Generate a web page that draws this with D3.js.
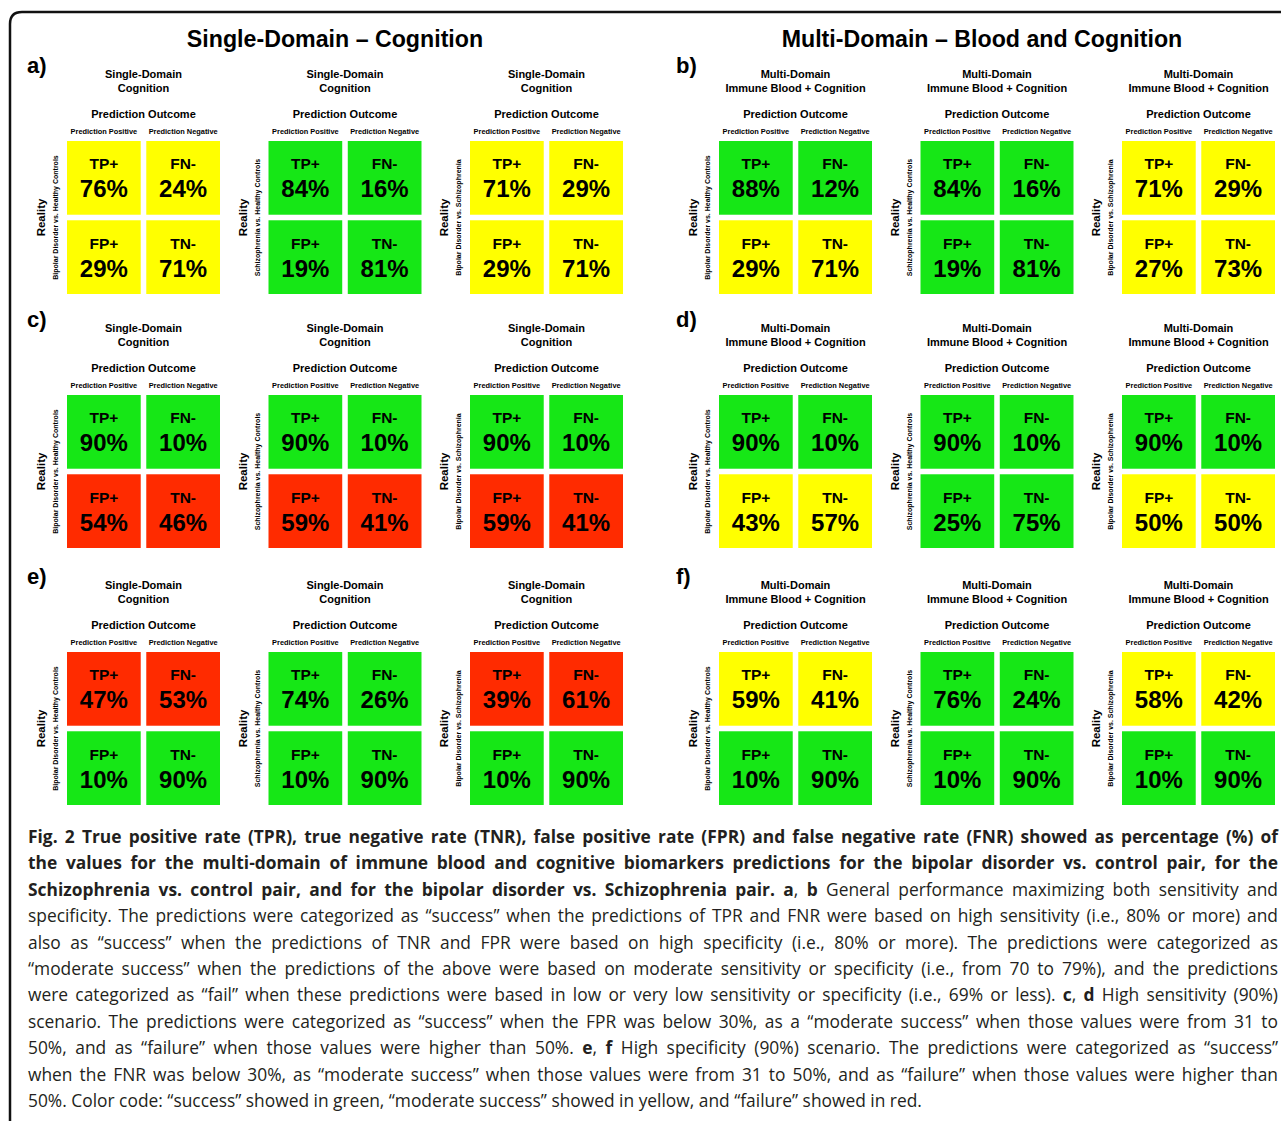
<!DOCTYPE html>
<html>
<head>
<meta charset="utf-8">
<script src="https://cdn.jsdelivr.net/npm/d3@7"></script>
<style>
  body { margin: 0; background: #fff; }
  svg { display: block; }
</style>
</head>
<body>
<div id="chart"></div>
<script>
// section titles and panel labels
const sectionTitles = ["Single-Domain – Cognition", "Multi-Domain – Blood and Cognition"];
const panelLabels = ["a)", "b)", "c)", "d)", "e)", "f)"];
const domainTitles = [["Single-Domain", "Cognition"], ["Multi-Domain", "Immune Blood + Cognition"]];
const comparisons = ["Bipolar Disorder vs. Healthy Controls", "Schizophrenia vs. Healthy Controls", "Bipolar Disorder vs. Schizophrenia"];
const outcomeLabels = ["Prediction Positive", "Prediction Negative"];
const realityRows = ["Positive", "Negative"];
const cellLabels = ["TP+", "FN-", "FP+", "TN-"];

// values per panel, one array per comparison: [TP, FN, FP, TN]
const valuesA = [[76, 24, 29, 71], [84, 16, 19, 81], [71, 29, 29, 71]];
const valuesB = [[88, 12, 29, 71], [84, 16, 19, 81], [71, 29, 27, 73]];
const valuesC = [[90, 10, 54, 46], [90, 10, 59, 41], [90, 10, 59, 41]];
const valuesD = [[90, 10, 43, 57], [90, 10, 25, 75], [90, 10, 50, 50]];
const valuesE = [[47, 53, 10, 90], [74, 26, 10, 90], [39, 61, 10, 90]];
const valuesF = [[59, 41, 10, 90], [76, 24, 10, 90], [58, 42, 10, 90]];

// outcome per panel, one array per comparison: [top row, bottom row]
const statusA = [["moderate", "moderate"], ["success", "success"], ["moderate", "moderate"]];
const statusB = [["success", "moderate"], ["success", "success"], ["moderate", "moderate"]];
const statusC = [["success", "failure"], ["success", "failure"], ["success", "failure"]];
const statusD = [["success", "moderate"], ["success", "success"], ["success", "moderate"]];
const statusE = [["failure", "success"], ["success", "success"], ["failure", "success"]];
const statusF = [["moderate", "success"], ["success", "success"], ["moderate", "success"]];

// caption, **...** marks bold
const captionLines = [
  "**Fig. 2 True positive rate (TPR), true negative rate (TNR), false positive rate (FPR) and false negative rate (FNR) showed as percentage (%) of**",
  "**the values for the multi-domain of immune blood and cognitive biomarkers predictions for the bipolar disorder vs. control pair, for the**",
  "**Schizophrenia vs. control pair, and for the bipolar disorder vs. Schizophrenia pair. a**, **b** General performance maximizing both sensitivity and",
  "specificity. The predictions were categorized as “success” when the predictions of TPR and FNR were based on high sensitivity (i.e., 80% or more) and",
  "also as “success” when the predictions of TNR and FPR were based on high specificity (i.e., 80% or more). The predictions were categorized as",
  "“moderate success” when the predictions of the above were based on moderate sensitivity or specificity (i.e., from 70 to 79%), and the predictions",
  "were categorized as “fail” when these predictions were based in low or very low sensitivity or specificity (i.e., 69% or less). **c**, **d** High sensitivity (90%)",
  "scenario. The predictions were categorized as “success” when the FPR was below 30%, as a “moderate success” when those values were from 31 to",
  "50%, and as “failure” when those values were higher than 50%. **e**, **f** High specificity (90%) scenario. The predictions were categorized as “success”",
  "when the FNR was below 30%, as “moderate success” when those values were from 31 to 50%, and as “failure” when those values were higher than",
  "50%. Color code: “success” showed in green, “moderate success” showed in yellow, and “failure” showed in red."
];

const panels = [
  { label: panelLabels[0], values: valuesA, status: statusA, col: 0, row: 0 },
  { label: panelLabels[1], values: valuesB, status: statusB, col: 1, row: 0 },
  { label: panelLabels[2], values: valuesC, status: statusC, col: 0, row: 1 },
  { label: panelLabels[3], values: valuesD, status: statusD, col: 1, row: 1 },
  { label: panelLabels[4], values: valuesE, status: statusE, col: 0, row: 2 },
  { label: panelLabels[5], values: valuesF, status: statusF, col: 1, row: 2 }
];

const width = 1281, height = 1121;
const fontSans = "'Liberation Sans', Arial, Helvetica, sans-serif";
const colX = [67, 719];          // left edge of first matrix in each column
const rowY = [141, 395, 652];    // top edge of the matrices in each row
const matrixStep = 201.5;
const matrixSize = 153;

const color = d3.scaleOrdinal()
  .domain(["success", "moderate", "failure"])
  .range(["#16e716", "#ffff00", "#ff2b00"]);

const x = d3.scaleBand().domain(outcomeLabels).range([0, matrixSize]).paddingInner(0.07);
const y = d3.scaleBand().domain(realityRows).range([0, matrixSize]).paddingInner(0.07);

const svg = d3.select("#chart")
  .append("svg")
    .attr("width", width)
    .attr("height", height)
    .attr("viewBox", `0 0 ${width} ${height}`)
    .style("font-family", fontSans);

svg.append("rect").attr("width", width).attr("height", height).attr("fill", "#fff");

// frame (rounded corner on the top left, open to the right and bottom)
svg.append("path")
  .attr("d", `M10,${height + 5} L10,24 Q10,12 22,12 L${width + 5},12`)
  .attr("fill", "none")
  .attr("stroke", "#111")
  .attr("stroke-width", 2.5);

// section titles
svg.selectAll(".section-title")
  .data(sectionTitles)
  .join("text")
    .attr("class", "section-title")
    .attr("x", (d, i) => i === 0 ? 335 : 982)
    .attr("y", 39)
    .attr("dy", "0.35em")
    .attr("text-anchor", "middle")
    .style("font-size", "23.2px")
    .style("font-weight", "bold")
    .text(d => d);

panels.forEach(function(p) {
  const top = rowY[p.row];
  const g = svg.append("g");

  g.append("text")
    .attr("x", p.col === 0 ? 27 : 676)
    .attr("y", top - 76)
    .attr("dy", "0.35em")
    .style("font-size", "22px")
    .style("font-weight", "bold")
    .text(p.label);

  p.values.forEach(function(vals, m) {
    const left = colX[p.col] + m * matrixStep;
    const mg = g.append("g").attr("transform", `translate(${left},${top})`);
    const cx = matrixSize / 2;

    // headers
    mg.selectAll(".domain-title")
      .data(domainTitles[p.col])
      .join("text")
        .attr("x", cx)
        .attr("y", (d, i) => -67 + i * 14)
        .attr("dy", "0.35em")
        .attr("text-anchor", "middle")
        .style("font-size", "11px")
        .style("font-weight", "bold")
        .text(d => d);

    mg.append("text")
      .attr("x", cx)
      .attr("y", -27)
      .attr("dy", "0.35em")
      .attr("text-anchor", "middle")
      .style("font-size", "11px")
      .style("font-weight", "bold")
      .text("Prediction Outcome");

    mg.selectAll(".outcome")
      .data(outcomeLabels)
      .join("text")
        .attr("x", d => x(d) + x.bandwidth() / 2)
        .attr("y", -10)
        .attr("dy", "0.35em")
        .attr("text-anchor", "middle")
        .style("font-size", "7.4px")
        .style("font-weight", "bold")
        .text(d => d);

    // side labels
    mg.append("text")
      .attr("transform", `translate(-26,${cx}) rotate(-90)`)
      .attr("dy", "0.35em")
      .attr("text-anchor", "middle")
      .style("font-size", "11.5px")
      .style("font-weight", "bold")
      .text("Reality");

    mg.append("text")
      .attr("transform", `translate(-11,${cx}) rotate(-90)`)
      .attr("dy", "0.35em")
      .attr("text-anchor", "middle")
      .style("font-size", "7px")
      .style("font-weight", "bold")
      .text(comparisons[m]);

    // cells
    const cells = vals.map((v, k) => ({
      value: v,
      label: cellLabels[k],
      col: outcomeLabels[k % 2],
      row: realityRows[Math.floor(k / 2)],
      status: p.status[m][Math.floor(k / 2)]
    }));

    const cell = mg.selectAll(".cell")
      .data(cells)
      .join("g")
        .attr("class", "cell")
        .attr("transform", d => `translate(${x(d.col)},${y(d.row)})`);

    cell.append("rect")
      .attr("width", x.bandwidth())
      .attr("height", y.bandwidth())
      .attr("fill", d => color(d.status));

    cell.append("text")
      .attr("x", x.bandwidth() / 2)
      .attr("y", 23)
      .attr("dy", "0.35em")
      .attr("text-anchor", "middle")
      .style("font-size", "15.5px")
      .style("font-weight", "bold")
      .text(d => d.label);

    cell.append("text")
      .attr("x", x.bandwidth() / 2)
      .attr("y", 48)
      .attr("dy", "0.35em")
      .attr("text-anchor", "middle")
      .style("font-size", "24px")
      .style("font-weight", "bold")
      .text(d => d.value + "%");
  });
});

// caption: Open Sans squeezed horizontally to get close to the narrow original face
const capLeft = 28, capRight = 1278, capTop = 843, capStep = 26.4, capSize = 18.2;
const cap = svg.append("g")
  .style("font-family", "'Open Sans', 'Noto Sans', sans-serif")
  .style("fill", "#231f20");

function addLine(str, i) {
  const t = cap.append("text")
    .attr("x", 0)
    .attr("y", capTop + i * capStep)
    .style("font-size", capSize + "px");
  str.split("**").forEach(function(part, j) {
    if (!part) return;
    t.append("tspan")
      .style("font-weight", j % 2 === 1 ? "bold" : "normal")
      .text(part);
  });
  return t;
}

// horizontal squeeze from the last (unjustified) line, which ends near x = 922
const probe = addLine(captionLines[captionLines.length - 1], 0);
const sx = 894 / probe.node().getComputedTextLength();
probe.remove();
cap.attr("transform", `translate(${capLeft},0) scale(${sx},1)`);

captionLines.forEach(function(line, i) {
  const t = addLine(line, i);
  if (i < captionLines.length - 1) {
    const natural = t.node().getComputedTextLength();
    const spaces = (line.match(/ /g) || []).length;
    t.style("word-spacing", (((capRight - capLeft) / sx - natural) / spaces) + "px");
  }
});
</script>
</body>
</html>
